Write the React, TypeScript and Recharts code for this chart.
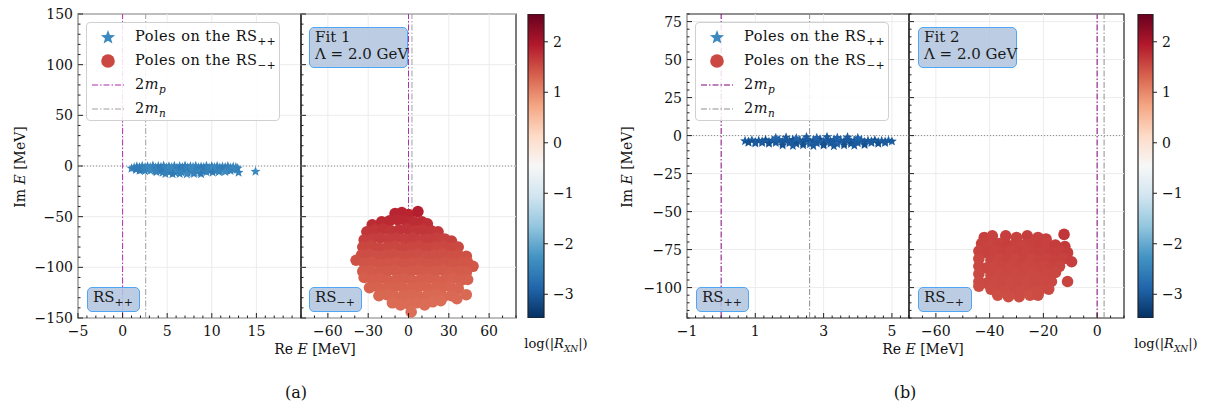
import React from 'react';
import { ScatterChart, Scatter, BarChart, Bar, XAxis, YAxis, ReferenceLine, ReferenceArea, Legend } from 'recharts';

const SERIF = '"DejaVu Serif", "Liberation Serif", serif';
const H = 360;

// colour scale (RdBu_r) shared by both colour bars
const RDBU_R = ['#053061', '#2166ac', '#4393c3', '#92c5de', '#d1e5f0', '#f7f7f7', '#fddbc7', '#f4a582', '#d6604d', '#b2182b', '#67001f'];
const VMIN = -3.47;
const VMAX = 2.55;
const CB_TICKS = [-3, -2, -1, 0, 1, 2];

// thresholds, MeV relative to 2m_p
const TWO_MP = 0;
const TWO_MN = 2.59;

// axes
const A_Y_DOMAIN = [-150, 150];
const A_Y_TICKS = [-150, -100, -50, 0, 50, 100, 150];
const A_PP_X_DOMAIN = [-5, 20];
const A_PP_X_TICKS = [-5, 0, 5, 10, 15];
const A_MP_X_DOMAIN = [-80, 80];
const A_MP_X_TICKS = [-60, -30, 0, 30, 60];
const B_Y_DOMAIN = [-120, 80];
const B_Y_TICKS = [-100, -75, -50, -25, 0, 25, 50, 75];
const B_PP_X_DOMAIN = [-1, 5.5];
const B_PP_X_TICKS = [-1, 1, 3, 5];
const B_MP_X_DOMAIN = [-70, 10];
const B_MP_X_TICKS = [-60, -40, -20, 0];

// poles: [Re E, Im E, log|R_XN|]
const A_PP_POLES = [
  [1.6, -0.6, -2.5], [2.2, -0.1, -2.4], [2.8, -0.5, -2.6], [3.4, 0.2, -2.5], [4.0, -0.3, -2.4], [4.6, 0.1, -2.5], [5.2, -0.6, -2.6], [5.8, 0.0, -2.5], [6.4, -0.4, -2.4], [7.0, 0.3, -2.5], [7.6, -0.5, -2.6], [8.2, -0.1, -2.5], [8.8, -0.7, -2.4], [9.4, 0.0, -2.5], [10.0, -0.4, -2.6], [10.6, -0.2, -2.5], [11.2, -0.8, -2.4], [11.8, -0.3, -2.5], [12.4, -1.0, -2.6],
  [1.3, -1.5, -2.5], [1.9, -1.2, -2.6], [2.5, -1.7, -2.5], [3.1, -1.3, -2.4], [3.7, -1.6, -2.5], [4.3, -1.1, -2.6], [4.9, -1.5, -2.5], [5.5, -1.2, -2.4], [6.1, -1.7, -2.5], [6.7, -1.3, -2.6], [7.3, -1.6, -2.5], [7.9, -1.1, -2.4], [8.5, -1.5, -2.5], [9.1, -1.2, -2.6], [9.7, -1.7, -2.5], [10.3, -1.3, -2.4], [10.9, -1.6, -2.5], [11.5, -1.2, -2.6], [12.1, -1.7, -2.5], [12.7, -1.4, -2.4],
  [1.0, -2.4, -2.5], [1.6, -2.8, -2.6], [2.2, -2.2, -2.5], [2.8, -2.9, -2.4], [3.4, -2.5, -2.5], [4.0, -2.7, -2.6], [4.6, -2.3, -2.5], [5.2, -2.9, -2.4], [5.8, -2.4, -2.5], [6.4, -2.8, -2.6], [7.0, -2.3, -2.5], [7.6, -2.9, -2.4], [8.2, -2.5, -2.5], [8.8, -2.7, -2.6], [9.4, -2.2, -2.5], [10.0, -2.8, -2.4], [10.6, -2.4, -2.5], [11.2, -2.9, -2.6], [11.8, -2.5, -2.5], [12.4, -2.8, -2.4], [12.9, -2.3, -2.5],
  [1.5, -3.6, -2.6], [2.1, -3.9, -2.5], [2.7, -3.5, -2.4], [3.3, -3.8, -2.5], [3.9, -3.4, -2.6], [4.5, -3.9, -2.5], [5.1, -3.6, -2.4], [5.7, -3.8, -2.5], [6.3, -3.5, -2.6], [6.9, -3.9, -2.5], [7.5, -3.6, -2.4], [8.1, -3.8, -2.5], [8.7, -3.4, -2.6], [9.3, -3.9, -2.5], [9.9, -3.6, -2.4], [10.5, -3.8, -2.5], [11.1, -3.5, -2.6], [11.7, -3.9, -2.5], [12.3, -3.6, -2.4],
  [1.9, -4.4, -2.6], [2.5, -4.8, -2.5], [3.1, -4.5, -2.4], [3.7, -4.9, -2.5], [4.3, -4.6, -2.6], [4.9, -5.0, -2.5], [5.5, -4.5, -2.4], [6.1, -4.9, -2.5], [6.7, -4.6, -2.6], [7.3, -5.0, -2.5], [7.9, -4.4, -2.4], [8.5, -4.8, -2.5], [9.1, -4.5, -2.6], [9.7, -4.9, -2.5], [10.3, -4.6, -2.4], [10.9, -4.8, -2.5], [11.5, -4.4, -2.6], [12.1, -4.6, -2.5],
  [3.8, -6.0, -2.5], [4.5, -6.4, -2.6], [5.2, -6.1, -2.5], [5.9, -6.6, -2.4], [6.6, -6.2, -2.5], [7.3, -6.7, -2.6], [8.0, -6.2, -2.5], [8.7, -6.5, -2.4], [9.4, -6.0, -2.5], [10.1, -6.3, -2.6], [10.8, -5.8, -2.5], [11.5, -5.6, -2.4],
  [4.8, -7.6, -2.5], [5.6, -7.9, -2.6], [6.4, -7.7, -2.5], [7.2, -8.0, -2.4], [8.0, -7.6, -2.5], [8.8, -7.8, -2.6],
  [13.0, -6.5, -2.5], [14.9, -5.5, -2.4],
];

const A_MP_POLES = [
  [-10, -47, 1.85], [-5, -46, 1.85], [0, -48, 1.84], [7, -45, 1.9],
  [-27, -58, 1.78], [-20, -55, 1.8], [-14, -54, 1.8], [-8, -53, 1.8], [-2, -54, 1.8], [4, -55, 1.78], [10, -55, 1.78], [14, -57, 1.76],
  [-31, -65, 1.7], [-25, -63, 1.7], [-19, -62, 1.72], [-13, -64, 1.7], [-7, -63, 1.72], [-1, -62, 1.72], [5, -64, 1.7], [11, -63, 1.7], [17, -64, 1.7], [22, -65, 1.68],
  [-33, -73, 1.62], [-27, -72, 1.62], [-21, -71, 1.63], [-15, -72, 1.62], [-9, -71, 1.63], [-3, -72, 1.62], [3, -71, 1.63], [9, -73, 1.62], [15, -72, 1.62], [21, -71, 1.62], [27, -72, 1.6], [32, -74, 1.6],
  [-34, -80, 1.56], [-28, -79, 1.56], [-22, -81, 1.56], [-16, -80, 1.56], [-10, -79, 1.56], [-4, -81, 1.56], [2, -80, 1.56], [8, -79, 1.56], [14, -81, 1.56], [20, -80, 1.55], [26, -79, 1.55], [32, -81, 1.55], [37, -80, 1.54],
  [-35, -88, 1.5], [-29, -87, 1.5], [-23, -89, 1.5], [-17, -88, 1.5], [-11, -87, 1.5], [-5, -89, 1.5], [1, -88, 1.5], [7, -87, 1.5], [13, -89, 1.49], [19, -88, 1.49], [25, -87, 1.49], [31, -89, 1.48], [37, -88, 1.48], [43, -89, 1.47],
  [-39, -93, 1.46], [-33, -96, 1.45], [-27, -95, 1.45], [-21, -97, 1.45], [-15, -96, 1.45], [-9, -95, 1.45], [-3, -97, 1.45], [3, -96, 1.45], [9, -95, 1.45], [15, -97, 1.44], [21, -96, 1.44], [27, -95, 1.44], [33, -97, 1.43], [39, -96, 1.43], [44, -95, 1.43], [48, -99, 1.42],
  [-34, -104, 1.4], [-28, -103, 1.4], [-22, -105, 1.4], [-16, -104, 1.4], [-10, -103, 1.4], [-4, -105, 1.4], [2, -104, 1.4], [8, -103, 1.4], [14, -105, 1.39], [20, -104, 1.39], [26, -103, 1.39], [32, -105, 1.38], [38, -104, 1.38], [43, -105, 1.38],
  [-33, -110, 1.36], [-27, -112, 1.36], [-21, -111, 1.36], [-15, -113, 1.36], [-9, -112, 1.36], [-3, -111, 1.36], [3, -113, 1.35], [9, -112, 1.35], [15, -111, 1.35], [21, -113, 1.35], [27, -112, 1.35], [33, -111, 1.34], [39, -113, 1.34], [44, -112, 1.34],
  [-29, -120, 1.32], [-23, -119, 1.32], [-17, -121, 1.32], [-11, -120, 1.32], [-5, -119, 1.32], [1, -121, 1.31], [7, -120, 1.31], [13, -119, 1.31], [19, -121, 1.31], [25, -120, 1.31], [31, -119, 1.3], [37, -121, 1.3],
  [-22, -128, 1.28], [-16, -127, 1.28], [-10, -129, 1.28], [-4, -128, 1.28], [2, -127, 1.28], [8, -129, 1.28], [14, -128, 1.27], [20, -127, 1.27], [26, -129, 1.27], [32, -128, 1.27], [36, -131, 1.26], [43, -127, 1.27],
  [-12, -135, 1.25], [-6, -137, 1.25], [0, -136, 1.25], [6, -135, 1.25], [12, -137, 1.24], [18, -134, 1.24], [24, -133, 1.24],
  [2, -144, 1.22],
];

const B_PP_POLES = [
  [0.7, -3.6, -3.0], [0.9, -3.0, -2.9], [1.1, -3.4, -3.0], [1.3, -2.9, -3.1], [1.5, -3.3, -3.0], [1.7, -2.8, -2.9], [1.9, -3.2, -3.0], [2.1, -2.7, -3.1], [2.3, -3.1, -3.0], [2.5, -2.6, -2.9], [2.7, -3.0, -3.0], [2.9, -2.5, -3.1], [3.1, -3.0, -3.0], [3.3, -2.7, -2.9], [3.5, -3.2, -3.0], [3.7, -2.8, -3.1], [3.9, -3.3, -3.0], [4.1, -2.9, -2.9], [4.3, -3.4, -3.0], [4.5, -3.0, -3.1], [4.7, -3.5, -3.0], [4.9, -3.3, -2.9], [5.0, -3.8, -3.0],
  [0.8, -4.0, -3.0], [1.0, -4.3, -3.1], [1.2, -3.9, -3.0], [1.4, -4.2, -2.9], [1.6, -3.8, -3.0], [1.8, -4.3, -3.1], [2.0, -3.9, -3.0], [2.2, -4.2, -2.9], [2.4, -3.8, -3.0], [2.6, -4.3, -3.1], [2.8, -3.9, -3.0], [3.0, -4.2, -2.9], [3.2, -3.8, -3.0], [3.4, -4.3, -3.1], [3.6, -3.9, -3.0], [3.8, -4.2, -2.9], [4.0, -3.8, -3.0], [4.2, -4.3, -3.1], [4.4, -3.9, -3.0], [4.6, -4.2, -2.9], [4.8, -4.0, -3.0],
  [0.8, -4.6, -3.1], [1.0, -5.0, -3.0], [1.2, -4.7, -3.0], [1.4, -5.2, -3.1], [1.6, -4.8, -3.0], [1.8, -5.3, -2.9], [2.0, -4.9, -3.0], [2.2, -5.4, -3.1], [2.4, -5.0, -3.0], [2.6, -5.5, -2.9], [2.8, -5.1, -3.0], [3.0, -5.6, -3.1], [3.2, -5.2, -3.0], [3.4, -5.5, -2.9], [3.6, -5.0, -3.0], [3.8, -5.4, -3.1], [4.0, -4.9, -3.0], [4.2, -5.3, -2.9], [4.4, -4.8, -3.0], [4.6, -5.2, -3.1], [4.8, -4.7, -3.0],
  [1.6, -1.6, -2.9], [1.9, -1.2, -3.0], [2.2, -1.7, -2.9], [2.5, -1.0, -3.0], [2.8, -1.5, -2.9], [3.1, -0.9, -3.0], [3.4, -1.4, -2.9], [3.7, -1.1, -3.0], [4.0, -1.6, -2.9],
  [1.8, -6.3, -3.1], [2.1, -6.7, -3.0], [2.4, -6.2, -3.1], [2.7, -6.8, -3.0], [3.0, -6.4, -3.1], [3.3, -6.9, -3.0], [3.6, -6.3, -3.1], [3.9, -6.6, -3.0], [4.2, -6.1, -3.1],
];

const B_MP_POLES = [
  [-42, -67, 1.62], [-39, -66, 1.6], [-34, -66, 1.62], [-30, -67, 1.6], [-26, -66, 1.63], [-22, -67, 1.6], [-19, -68, 1.62], [-12.3, -65, 1.7],
  [-43, -71, 1.6], [-39.5, -72, 1.58], [-36.5, -71, 1.6], [-33.5, -72, 1.62], [-30.5, -71, 1.6], [-27.5, -72, 1.58], [-24.5, -71, 1.6], [-21.5, -72, 1.62], [-18.5, -71, 1.6], [-15.5, -72, 1.64], [-12, -73, 1.66],
  [-44, -76, 1.58], [-41, -77, 1.6], [-38, -76, 1.58], [-35, -77, 1.6], [-32, -76, 1.58], [-29, -77, 1.6], [-26, -76, 1.58], [-23, -77, 1.6], [-20, -76, 1.6], [-17, -77, 1.62], [-14, -76, 1.62], [-11, -77, 1.64],
  [-44, -81, 1.56], [-39.5, -82, 1.58], [-36.5, -81, 1.56], [-33.5, -82, 1.58], [-30.5, -81, 1.56], [-27.5, -82, 1.58], [-24.5, -81, 1.56], [-21.5, -82, 1.58], [-18.5, -81, 1.58], [-15.5, -82, 1.6], [-12.5, -81, 1.6], [-9.5, -83, 1.62],
  [-44, -86, 1.55], [-41, -87, 1.56], [-38, -86, 1.55], [-35, -87, 1.56], [-32, -86, 1.55], [-29, -87, 1.56], [-26, -86, 1.55], [-23, -87, 1.56], [-20, -86, 1.56], [-17, -87, 1.58], [-14, -86, 1.58],
  [-44, -91, 1.54], [-39.5, -92, 1.55], [-36.5, -91, 1.54], [-33.5, -92, 1.55], [-30.5, -91, 1.54], [-27.5, -92, 1.55], [-24.5, -91, 1.54], [-21.5, -92, 1.55], [-18.5, -91, 1.55], [-15.5, -90, 1.56],
  [-44, -96, 1.53], [-41, -97, 1.54], [-38, -96, 1.53], [-35, -97, 1.54], [-32, -96, 1.53], [-29, -97, 1.54], [-26, -96, 1.53], [-23, -97, 1.54], [-20, -96, 1.54], [-17, -96, 1.55], [-11, -96, 1.58],
  [-44, -99, 1.52], [-39.5, -101, 1.52], [-36.5, -101, 1.53], [-33.5, -102, 1.52], [-30.5, -101, 1.53], [-27.5, -102, 1.52], [-24.5, -101, 1.53], [-21.5, -102, 1.52], [-18, -101, 1.54],
  [-37, -105, 1.5], [-33, -106, 1.5], [-29, -106, 1.51], [-25, -105, 1.5], [-22, -105, 1.51],
];

// colour bar span
const CB_DATA = [{ name: 'log|R|', span: [VMIN, VMAX] }];

const hexToRgb = (h: string) => [1, 3, 5].map((i) => parseInt(h.slice(i, i + 2), 16));
const cmap = (v: number) => {
  const t = Math.min(1, Math.max(0, (v - VMIN) / (VMAX - VMIN))) * 10;
  const i = Math.min(9, Math.floor(t));
  const f = t - i;
  const a = hexToRgb(RDBU_R[i]);
  const b = hexToRgb(RDBU_R[i + 1]);
  return `rgb(${a.map((c, k) => Math.round(c + (b[k] - c) * f)).join(',')})`;
};
const toPts = (rows: number[][]) => rows.map(([x, y, c]) => ({ x, y, c }));
const withMinor = (dom: number[], step: number) => {
  const out: number[] = [];
  for (let v = dom[0]; v <= dom[1] + 1e-9; v += step) out.push(Math.round(v * 1000) / 1000);
  return out;
};
const fmt = (v: number) => (v < 0 ? '\u2212' + Math.abs(v) : String(v));
const isMajor = (v: number, majors: number[]) => majors.some((m) => Math.abs(m - v) < 1e-6);

const xTick = (majors: number[]) => (p: any) => {
  const v = p.payload.value;
  const major = isMajor(v, majors);
  return (
    <g>
      <line x1={p.x} x2={p.x} y1={p.y} y2={p.y - (major ? 5 : 2.5)} stroke="#222" />
      {major && (
        <text x={p.x} y={p.y + 18} textAnchor="middle" fontFamily={SERIF} fontSize={14} fill="#111">
          {fmt(v)}
        </text>
      )}
    </g>
  );
};

const yTick = (majors: number[], labels: boolean) => (p: any) => {
  const v = p.payload.value;
  const major = isMajor(v, majors);
  return (
    <g>
      <line x1={p.x} x2={p.x + (major ? 5 : 2.5)} y1={p.y} y2={p.y} stroke="#222" />
      {major && labels && (
        <text x={p.x - 5} y={p.y + 5} textAnchor="end" fontFamily={SERIF} fontSize={14} fill="#111">
          {fmt(v)}
        </text>
      )}
    </g>
  );
};

const cbTick = (p: any) => (
  <g>
    <line x1={p.x} x2={p.x + 4} y1={p.y} y2={p.y} stroke="#222" />
    <text x={p.x + 9} y={p.y + 5} textAnchor="start" fontFamily={SERIF} fontSize={14} fill="#111">
      {fmt(p.payload.value)}
    </text>
  </g>
);

const StarShape = (R: number) => (p: any) => {
  const pts: string[] = [];
  for (let k = 0; k < 10; k++) {
    const r = k % 2 === 0 ? R : R * 0.42;
    const a = -Math.PI / 2 + (k * Math.PI) / 5;
    pts.push(`${p.cx + r * Math.cos(a)},${p.cy + r * Math.sin(a)}`);
  }
  return <polygon points={pts.join(' ')} fill={cmap(p.payload.c)} />;
};

const DotShape = (r: number) => (p: any) => <circle cx={p.cx} cy={p.cy} r={r} fill={cmap(p.payload.c)} />;

const DashDot = ({ color }: { color: string }) => (
  <svg width={32} height={6}>
    <line x1={0} y1={3} x2={32} y2={3} stroke={color} strokeWidth={1.2} strokeDasharray="6 2 1.5 2" />
  </svg>
);

const LegendBox = ({ mp, mn }: { mp: string; mn: string }) => {
  const row = (cy: number, marker: React.ReactNode, label: React.ReactNode) => (
    <div style={{ position: 'absolute', left: 0, top: cy - 10, height: 20, display: 'flex', alignItems: 'center' }}>
      <div style={{ width: 42, marginRight: 6, display: 'flex', justifyContent: 'center' }}>{marker}</div>
      <div style={{ whiteSpace: 'nowrap' }}>{label}</div>
    </div>
  );
  return (
    <div style={{ width: '100%', height: '100%', boxSizing: 'border-box', border: '1px solid #d0d0d0', borderRadius: 4, background: 'rgba(255,255,255,0.85)', fontFamily: SERIF, fontSize: 14.5, letterSpacing: 0.5, color: '#111', position: 'relative' }}>
      {row(14, <svg width={16} height={16}>{StarShape(7.5)({ cx: 8, cy: 8.5, payload: { c: -2.4 } })}</svg>, <span>Poles on the RS<sub style={{ fontSize: 10.5 }}>++</sub></span>)}
      {row(38, <svg width={16} height={16}><circle cx={8} cy={8} r={6.8} fill={cmap(1.55)} /></svg>, <span>Poles on the RS<sub style={{ fontSize: 10.5 }}>{'\u2212+'}</sub></span>)}
      {row(62, <DashDot color={mp} />, <span>2<i>m</i><sub style={{ fontSize: 10.5 }}><i>p</i></sub></span>)}
      {row(86, <DashDot color={mn} />, <span>2<i>m</i><sub style={{ fontSize: 10.5 }}><i>n</i></sub></span>)}
    </div>
  );
};

type PanelProps = {
  left: number;
  width: number;
  margin: { top: number; right: number; bottom: number; left: number };
  yWidth: number;
  xDomain: number[];
  xMajor: number[];
  xStep: number;
  yDomain: number[];
  yMajor: number[];
  yStep: number;
  yLabels: boolean;
  data: number[][];
  shape: (p: any) => React.ReactElement;
  mpColor: string;
  mnColor: string;
  legend?: { left: number; top: number };
};

const Panel = (pp: PanelProps) => (
  <div style={{ position: 'absolute', left: pp.left, top: 0 }}>
    <ScatterChart width={pp.width} height={H} margin={pp.margin}>
      {pp.xMajor.map((v) => (
        <ReferenceLine key={'gx' + v} x={v} stroke="#ececec" />
      ))}
      {pp.yMajor.map((v) => (
        <ReferenceLine key={'gy' + v} y={v} stroke="#ececec" />
      ))}
      <XAxis type="number" dataKey="x" domain={pp.xDomain} ticks={withMinor(pp.xDomain, pp.xStep)} interval={0} allowDataOverflow tickLine={false} axisLine={false} tickSize={0} tickMargin={0} height={30} tick={xTick(pp.xMajor)} />
      <YAxis type="number" dataKey="y" domain={pp.yDomain} ticks={withMinor(pp.yDomain, pp.yStep)} interval={0} allowDataOverflow tickLine={false} axisLine={false} tickSize={0} tickMargin={0} width={pp.yWidth} tick={yTick(pp.yMajor, pp.yLabels)} />
      <ReferenceLine y={0} stroke="#8a8a8a" strokeDasharray="1 2" />
      <Scatter data={toPts(pp.data)} isAnimationActive={false} shape={pp.shape} />
      <ReferenceLine x={TWO_MP} stroke={pp.mpColor} strokeDasharray="6 2 1.5 2" />
      <ReferenceLine x={TWO_MN} stroke={pp.mnColor} strokeDasharray="6 2 1.5 2" />
      <ReferenceArea x1={pp.xDomain[0]} x2={pp.xDomain[1]} y1={pp.yDomain[0]} y2={pp.yDomain[1]} fill="none" stroke="#222" strokeWidth={1.2} ifOverflow="visible" />
      {pp.legend && (
        <Legend
          layout="vertical"
          align="center"
          verticalAlign="middle"
          content={() => <LegendBox mp={pp.mpColor} mn={pp.mnColor} />}
          wrapperStyle={{ left: pp.legend.left, top: pp.legend.top, width: 194, height: 99 }}
        />
      )}
    </ScatterChart>
  </div>
);

const ColorBar = ({ left, width, right }: { left: number; width: number; right: number }) => (
  <div style={{ position: 'absolute', left, top: 0 }}>
    <BarChart width={width} height={H} margin={{ top: 14, right, bottom: 42, left: 8 }} data={CB_DATA} barCategoryGap={0}>
      <XAxis type="category" dataKey="name" hide />
      <YAxis type="number" orientation="right" domain={[VMIN, VMAX]} ticks={CB_TICKS} interval={0} allowDataOverflow width={40} tickLine={false} axisLine={false} tickSize={0} tickMargin={0} tick={cbTick} />
      <Bar dataKey="span" fill="url(#rdbuGrad)" stroke="#222" strokeWidth={1.2} isAnimationActive={false} />
    </BarChart>
  </div>
);

const Tag = ({ left, top, width, height, children }: { left: number; top: number; width: number; height: number; children: React.ReactNode }) => (
  <div style={{ position: 'absolute', left, top, width, height, boxSizing: 'border-box', background: 'rgba(176,196,222,0.85)', border: '1.5px solid #4ea6f5', borderRadius: 5, fontFamily: SERIF, fontSize: 15, color: '#1a1a1a', padding: '1px 0 0 5px', lineHeight: '17px', whiteSpace: 'nowrap' }}>
    {children}
  </div>
);

const Txt = ({ x, y, size = 14, rotate = false, children }: { x: number; y: number; size?: number; rotate?: boolean; children: React.ReactNode }) => (
  <div style={{ position: 'absolute', left: x, top: y, transform: `translate(-50%, -50%)${rotate ? ' rotate(-90deg)' : ''}`, fontFamily: SERIF, fontSize: size, color: '#111', whiteSpace: 'nowrap' }}>
    {children}
  </div>
);

const RS = ({ sub }: { sub: string }) => (
  <span>
    RS<sub style={{ fontSize: 11 }}>{sub}</sub>
  </span>
);

const ImLabel = () => (
  <span>
    Im <i>E</i> [MeV]
  </span>
);
const ReLabel = () => (
  <span>
    Re <i>E</i> [MeV]
  </span>
);
const CbLabel = () => (
  <span>
    log(|<i>R</i>
    <sub style={{ fontSize: 9 }}>
      <i>XN</i>
    </sub>
    |)
  </span>
);

export default function App() {
  const aMp = '#b02cb0';
  const aMn = '#a0a0a0';
  const bMp = '#84007f';
  const bMn = '#8f8f8f';
  return (
    <div style={{ position: 'absolute', left: 0, top: 0, width: 1207, height: 405, background: '#fff', overflow: 'hidden' }}>
      <svg width={0} height={0} style={{ position: 'absolute' }}>
        <defs>
          <linearGradient id="rdbuGrad" x1="0" y1="1" x2="0" y2="0">
            {RDBU_R.map((c, i) => (
              <stop key={i} offset={i / 10} stopColor={c} />
            ))}
          </linearGradient>
        </defs>
      </svg>

      <Panel left={0} width={310} margin={{ top: 14, right: 9, bottom: 12, left: 18 }} yWidth={60} xDomain={A_PP_X_DOMAIN} xMajor={A_PP_X_TICKS} xStep={1} yDomain={A_Y_DOMAIN} yMajor={A_Y_TICKS} yStep={10} yLabels data={A_PP_POLES} shape={StarShape(5.3)} mpColor={aMp} mnColor={aMn} legend={{ left: 86, top: 22 }} />
      <Panel left={290} width={240} margin={{ top: 14, right: 14, bottom: 12, left: 10 }} yWidth={1} xDomain={A_MP_X_DOMAIN} xMajor={A_MP_X_TICKS} xStep={10} yDomain={A_Y_DOMAIN} yMajor={A_Y_TICKS} yStep={10} yLabels={false} data={A_MP_POLES} shape={DotShape(5.8)} mpColor={aMp} mnColor={aMn} />
      <ColorBar left={520} width={80} right={16} />

      <Panel left={600} width={320} margin={{ top: 14, right: 11, bottom: 12, left: 27 }} yWidth={60} xDomain={B_PP_X_DOMAIN} xMajor={B_PP_X_TICKS} xStep={0.25} yDomain={B_Y_DOMAIN} yMajor={B_Y_TICKS} yStep={5} yLabels data={B_PP_POLES} shape={StarShape(5.2)} mpColor={bMp} mnColor={bMn} legend={{ left: 95, top: 22 }} />
      <Panel left={900} width={240} margin={{ top: 14, right: 16, bottom: 12, left: 8 }} yWidth={1} xDomain={B_MP_X_DOMAIN} xMajor={B_MP_X_TICKS} xStep={5} yDomain={B_Y_DOMAIN} yMajor={B_Y_TICKS} yStep={5} yLabels={false} data={B_MP_POLES} shape={DotShape(5.8)} mpColor={bMp} mnColor={bMn} />
      <ColorBar left={1130} width={77} right={14} />

      <Tag left={87} top={287} width={53} height={25}><RS sub="++" /></Tag>
      <Tag left={309} top={287} width={53} height={25}><RS sub={'\u2212+'} /></Tag>
      <Tag left={309} top={27} width={99} height={41}>Fit 1<br />{'\u039b = 2.0 GeV'}</Tag>
      <Tag left={696} top={287} width={53} height={25}><RS sub="++" /></Tag>
      <Tag left={918} top={287} width={54} height={25}><RS sub={'\u2212+'} /></Tag>
      <Tag left={918} top={27} width={99} height={41}>Fit 2<br />{'\u039b = 2.0 GeV'}</Tag>

      <Txt x={20} y={167} rotate><ImLabel /></Txt>
      <Txt x={627} y={167} rotate><ImLabel /></Txt>
      <Txt x={315} y={349}><ReLabel /></Txt>
      <Txt x={923} y={349}><ReLabel /></Txt>
      <Txt x={556} y={345} size={13}><CbLabel /></Txt>
      <Txt x={1166} y={345} size={13}><CbLabel /></Txt>
      <Txt x={296} y={392} size={16}>(a)</Txt>
      <Txt x={905} y={392} size={16}>(b)</Txt>
    </div>
  );
}
